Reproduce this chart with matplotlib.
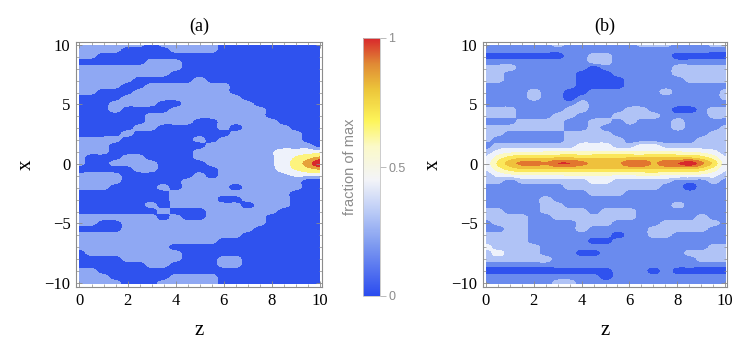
import numpy as np
import matplotlib
matplotlib.use('Agg')
import matplotlib.pyplot as plt
from matplotlib.colors import LinearSegmentedColormap, ListedColormap, BoundaryNorm, Normalize
from matplotlib.cm import ScalarMappable
from matplotlib.patches import Rectangle
from matplotlib.ticker import MultipleLocator

plt.rcParams['font.family'] = ['Liberation Serif', 'DejaVu Serif']

# bands, 0 = lowest contour band
# rows run from x=10 down to x=-10 in steps of 0.5, columns from z=0 to z=10 in steps of 0.5
bands_a = [
    [1,1,1,1,1,1,0,1,1,1,1,1,0,0,0,0,0,0,0,0,0],
    [1,1,1,1,0,0,0,0,1,1,1,1,0,0,0,0,0,0,0,0,0],
    [1,1,0,0,0,0,0,0,0,0,0,0,0,0,0,0,0,0,0,0,0],
    [0,0,0,0,0,0,1,1,1,0,0,0,0,0,0,0,0,0,0,0,0],
    [1,1,1,1,1,1,1,1,1,0,0,0,0,0,0,0,0,0,0,0,0],
    [1,1,1,1,1,1,1,1,0,0,0,0,0,0,0,0,0,0,0,0,0],
    [1,1,1,1,1,0,0,0,0,0,1,0,0,0,0,0,0,0,0,0,0],
    [1,1,1,1,0,0,1,1,1,1,1,1,1,0,0,0,0,0,0,0,0],
    [1,1,0,0,0,1,1,1,1,1,1,1,1,0,0,0,0,0,0,0,0],
    [0,0,0,0,1,1,1,1,1,1,1,1,1,1,0,0,0,0,0,0,0],
    [0,0,0,1,1,1,1,0,0,1,1,1,1,1,1,0,0,0,0,0,0],
    [0,0,0,1,0,0,0,0,1,1,1,1,1,1,1,1,0,0,0,0,0],
    [0,0,0,0,0,0,1,1,1,1,1,1,1,1,1,1,0,0,0,0,0],
    [0,0,0,0,0,0,1,1,1,1,0,0,1,1,1,1,1,0,0,0,0],
    [0,0,0,0,0,1,1,0,0,0,0,0,1,0,1,1,1,1,0,0,0],
    [0,0,0,0,1,0,0,0,0,0,0,0,0,1,1,1,1,1,1,0,0],
    [1,1,1,1,0,0,0,0,0,0,1,0,1,1,1,1,1,1,1,0,0],
    [1,1,1,0,0,0,0,0,0,0,0,1,1,1,1,1,1,1,1,1,0],
    [1,1,1,0,0,0,0,0,0,0,1,1,1,1,1,1,1.4,2,2,2,2],
    [1,0,0,0,1,1,0,0,0,0,1,1,1,1,1,1,1.4,2,2.6,3.2,3.8],
    [1,0,0,1,1,1,1,0,0,0,0,1,1,1,1,1,1.4,2,3,4,5.6],
    [0,0,0,0,0,1,1,0,0,0,0,0,1,1,1,1,1.3,2,2.6,3.2,3.6],
    [1,1,1,1,0,0,0,0,0,0,1,0,1,1,1,1,1,1.3,1.7,1.8,1.8],
    [1,1,1,1,0,0,0,0,0,1,1,1,1,1,1,1,1,1,1,0,0],
    [1,1,1,0,0,0,0,1,0,1,1,1,1,0,1,1,1,1,1,0,0],
    [0,0,0,0,0,0,0,0,1,1,1,1,1,1,1,1,1,1,0,0,0],
    [0,0,0,0,0,0,0,0,1,1,1,1,0,0,1,1,1,1,0,0,0],
    [0,0,0,0,0,0,1,0,1,1,1,1,1,1,0,1,1,1,0,0,0],
    [0,0,0,0,0,0,0,1,0,0,0,1,1,1,1,1,1,0,0,0,0],
    [1,1,1,1,1,1,1,0,1,0,0,1,1,1,1,1,0,0,0,0,0],
    [1,1,0,0,1,1,1,1,1,1,1,1,1,1,1,1,0,0,0,0,0],
    [0,0,0,0,1,1,1,1,1,1,1,1,1,1,1,0,0,0,0,0,0],
    [1,1,1,1,1,1,1,1,1,1,1,1,1,1,0,0,0,0,0,0,0],
    [1,1,1,1,1,1,1,1,1,1,1,1,0,0,0,0,0,0,0,0,0],
    [1,1,1,1,1,1,1,1,0,0,0,0,0,0,0,0,0,0,0,0,0],
    [0,1,1,1,1,1,1,1,1,0,0,0,0,0,0,0,0,0,0,0,0],
    [0,0,0,0,1,1,1,1,1,0,0,0,1,1,0,0,0,0,0,0,0],
    [0,0,0,0,0,0,1,1,0,0,0,0,1,1,0,0,0,0,0,0,0],
    [1,1,0,0,0,0,0,0,0,0,0,0,0,0,0,0,0,0,0,0,0],
    [1,1,1,0,0,0,0,0,1,1,1,1,0,0,0,0,0,0,0,0,0],
    [1,1,1,1,0,0,0,1,1,1,1,1,0,0,0,0,0,0,0,0,0],
]
colors_a = ['#2f52ee', '#8fa8f3', '#eef2fb', '#fdf37e', '#e6a13a', '#d8282c']

bands_b = [
    [1,1,1,1,1,1,2,1,1,1,1,1,1,2,2,2,1,1,1,2,2],
    [1,1,1,1,1,1,1,1,1,1,1,1,1,1,1,1,1,1,1,1,1],
    [0,0,0,0,0,0,0,1,1,2,2,1,1,1,1,1,0,0,0,0,0],
    [1,1,1,1,1,1,1,1,1,2,2,1,1,1,1,1,1,1,1,1,1],
    [2,2,2,1,1,1,1,1,1,0,1,1,1,1,1,1,2,2,2,2,2],
    [2,2,1,1,1,1,1,1,0,0,0,1,1,1,1,1,2,2,2,2,2],
    [2,2,1,1,1,1,1,1,0,0,0,0,1,1,1,1,1,2,2,2,2],
    [1,1,1,1,1,1,1,1,0,0,0,0,1,1,1,1,1,1,1,1,1],
    [1,1,1,1,2,1,1,0,0,1,1,1,1,1,1,2,1,1,1,1,2],
    [1,1,1,1,2,1,1,0,1,1,1,1,1,1,1,1,1,1,1,1,2],
    [1,1,1,1,1,1,1,1,2,1,1,1,1,1,1,1,1,1,1,1,1],
    [2,2,2,1,1,1,1,2,2,1,1,1,2,2,1,1,0,0,1,2,2],
    [2,2,2,1,1,1,2,2,1,1,1,2,2,2,2,1,1,1,1,2,2],
    [1,1,1,2,2,2,2,1,1,2,2,1,2,1,1,1,2,1,1,1,1],
    [2,2,2,2,2,2,2,1,1,2,1,1,1,1,1,1,2,1,1,1,2],
    [2,2,1,1,1,1,1,2,2,2,2,1,1,1,1,1,1,1,1,2,2],
    [2,1,1,1,1,1,1,2,2,2,2,2,1,1,1,1,1,1,2,2,2],
    [1,2,2,2,2,2,2,2,3,3,3,2,2,3,3,2,2,2,2,2,2],
    [2,2.8,3.2,3.4,3.4,3.5,3.5,3.6,3.6,3.6,3.6,3.5,3.5,3.6,3.6,3.5,3.5,3.4,3.2,2.8,2],
    [2.6,4,4.9,5.4,5.4,5.4,5.5,5.5,5.4,5.4,5.4,5.4,5.5,5.5,5.5,5.5,5.5,5.5,5,4,2.6],
    [3,4.7,6,6.8,7,6.6,7.5,7.5,6.8,6.3,6.2,6.3,7.3,7.4,6.4,7.3,7.5,8.2,6.8,5.2,3],
    [2.6,4,4.9,5.4,5.4,5.4,5.5,5.5,5.4,5.4,5.4,5.4,5.5,5.5,5.5,5.5,5.5,5.5,5,4,2.6],
    [2,2.8,3.2,3.4,3.4,3.5,3.5,3.6,3.6,3.6,3.6,3.5,3.5,3.6,3.6,3.5,3.5,3.4,3.2,2.8,2],
    [2,2,1,2,2,2,2,2,2,3,3,2,2,2,2,2,1,1,1,2,1],
    [1,1,1,1,1,1,1,2,2,2,2,2,2,2,2,1,1,0,1,1,1],
    [1,1,1,1,1,1,1,1,1,2,2,2,1,1,1,1,1,1,1,1,1],
    [1,1,1,1,1,2,1,1,1,1,1,1,1,1,1,1,1,1,1,1,1],
    [1,1,1,1,1,2,2,1,1,1,1,1,1,1,1,1,2,1,1,1,1],
    [2,2,1,1,1,2,2,2,2,1,2,2,2,1,1,1,1,1,1,1,1],
    [2,2,2,2,1,1,2,2,2,2,2,2,2,1,1,1,1,1,2,1,1],
    [1,2,2,2,1,1,1,1,2,2,2,1,1,1,1,2,2,2,2,2,1],
    [1,1,2,2,1,1,1,1,2,1,1,1,1,1,2,2,2,2,2,1,1],
    [2,2,2,2,1,1,1,1,1,1,1,0,1,1,2,2,1,1,1,1,1],
    [2,2,2,2,1,1,1,1,1,0,0,1,1,1,1,1,1,1,1,1,1],
    [3,2,2,2,2,1,1,1,1,1,1,1,1,1,1,1,1,1,1,2,2],
    [2,3,2,2,2,1,1,1,0,0,1,1,1,1,1,1,1,2,2,2,2],
    [2,2,2,2,2,2,1,1,1,1,1,1,1,1,1,1,1,1,2,2,2],
    [1,1,1,1,1,1,1,1,1,1,1,1,1,1,1,1,1,1,1,1,1],
    [0,0,0,0,0,0,0,0,0,0,0,1,1,1,0,1,0,0,0,0,0],
    [1,1,1,1,1,1,1,1,1,1,0,1,1,1,1,1,1,1,1,1,1],
    [1,1,1,1,1,1,2,2,1,1,1,1,1,1,1,1,1,1,1,1,1],
]
colors_b = ['#2f52ee', '#6a8bee', '#b0c3f6', '#eef2fb', '#fcf9c0', '#fbe75a', '#efc13c', '#e2762f', '#d8282c']

bar_stops = [0.0, 0.2, 0.32, 0.45, 0.58, 0.68, 0.8, 0.9, 1.0]
bar_colors = ['#2b4cef', '#7f9bf0', '#b8c9f6', '#f3f4f8', '#fbf9c8', '#fdf55a', '#ecc53a', '#e08a35', '#d8282c']
bar_ticks = [0, 0.5, 1]
bar_labels = ['0', '0.5', '1']

W, H = 747, 353
fig = plt.figure(figsize=(W / 100, H / 100), dpi=100)
GRAY = '#8c8c8c'


def panel(rect, xlim, bands, colors, title):
    left, top, right, bottom = rect
    ax = fig.add_axes([left / W, 1 - bottom / H, (right - left) / W, (bottom - top) / H])
    levels = np.arange(len(colors) + 1) - 0.5
    # library upsamples the grid first, then cuts it into the bands
    im = ax.imshow(np.array(bands, dtype=float), extent=(-0.25, 10.25, -10.25, 10.25), aspect='auto',
                   cmap=ListedColormap(colors), norm=BoundaryNorm(levels, len(colors)),
                   interpolation='catrom', interpolation_stage='data')
    im.set_clip_path(Rectangle((0, -10.1), 10, 20.1, transform=ax.transData))
    ax.set_xlim(*xlim)
    ax.set_ylim(-10.34, 10.25)
    ax.xaxis.set_major_locator(MultipleLocator(2))
    ax.xaxis.set_minor_locator(MultipleLocator(0.5))
    ax.yaxis.set_major_locator(MultipleLocator(5))
    ax.yaxis.set_minor_locator(MultipleLocator(1))
    ax.tick_params(which='major', direction='in', length=4, width=0.6, color=GRAY,
                   top=True, right=True, labelsize=12, pad=4)
    ax.tick_params(which='minor', direction='in', length=2, width=0.5, color=GRAY,
                   top=True, right=True)
    for s in ax.spines.values():
        s.set_color(GRAY)
        s.set_linewidth(0.8)
    ax.set_xlabel('z', fontsize=15, labelpad=9)
    ax.set_ylabel('x', fontsize=15, labelpad=6, rotation=90)
    ax.set_title(title, fontsize=13, pad=8)
    return ax


panel((76, 42, 322, 287), (-0.145, 10.08), bands_a, colors_a, '(a)')
panel((483, 42, 727, 287), (-0.125, 10.08), bands_b, colors_b, '(b)')

cax = fig.add_axes([363 / W, 1 - 296 / H, 17 / W, 258 / H])
cmap = LinearSegmentedColormap.from_list('fraction', list(zip(bar_stops, bar_colors)))
cb = fig.colorbar(ScalarMappable(Normalize(0, 1), cmap), cax=cax)
cb.set_ticks(bar_ticks, labels=bar_labels)
cb.outline.set_edgecolor('#c4c4c4')
cb.outline.set_linewidth(0.6)
cax.tick_params(length=4, width=0.6, color='#b0b0b0', labelcolor=GRAY, labelsize=9, pad=2)
for t in cax.get_yticklabels():
    t.set_family('Liberation Sans')
cax.yaxis.set_label_position('left')
cb.set_label('fraction of max', color=GRAY, fontsize=10.5, family='Liberation Sans', labelpad=4)

fig.savefig('out.png', dpi=100)
